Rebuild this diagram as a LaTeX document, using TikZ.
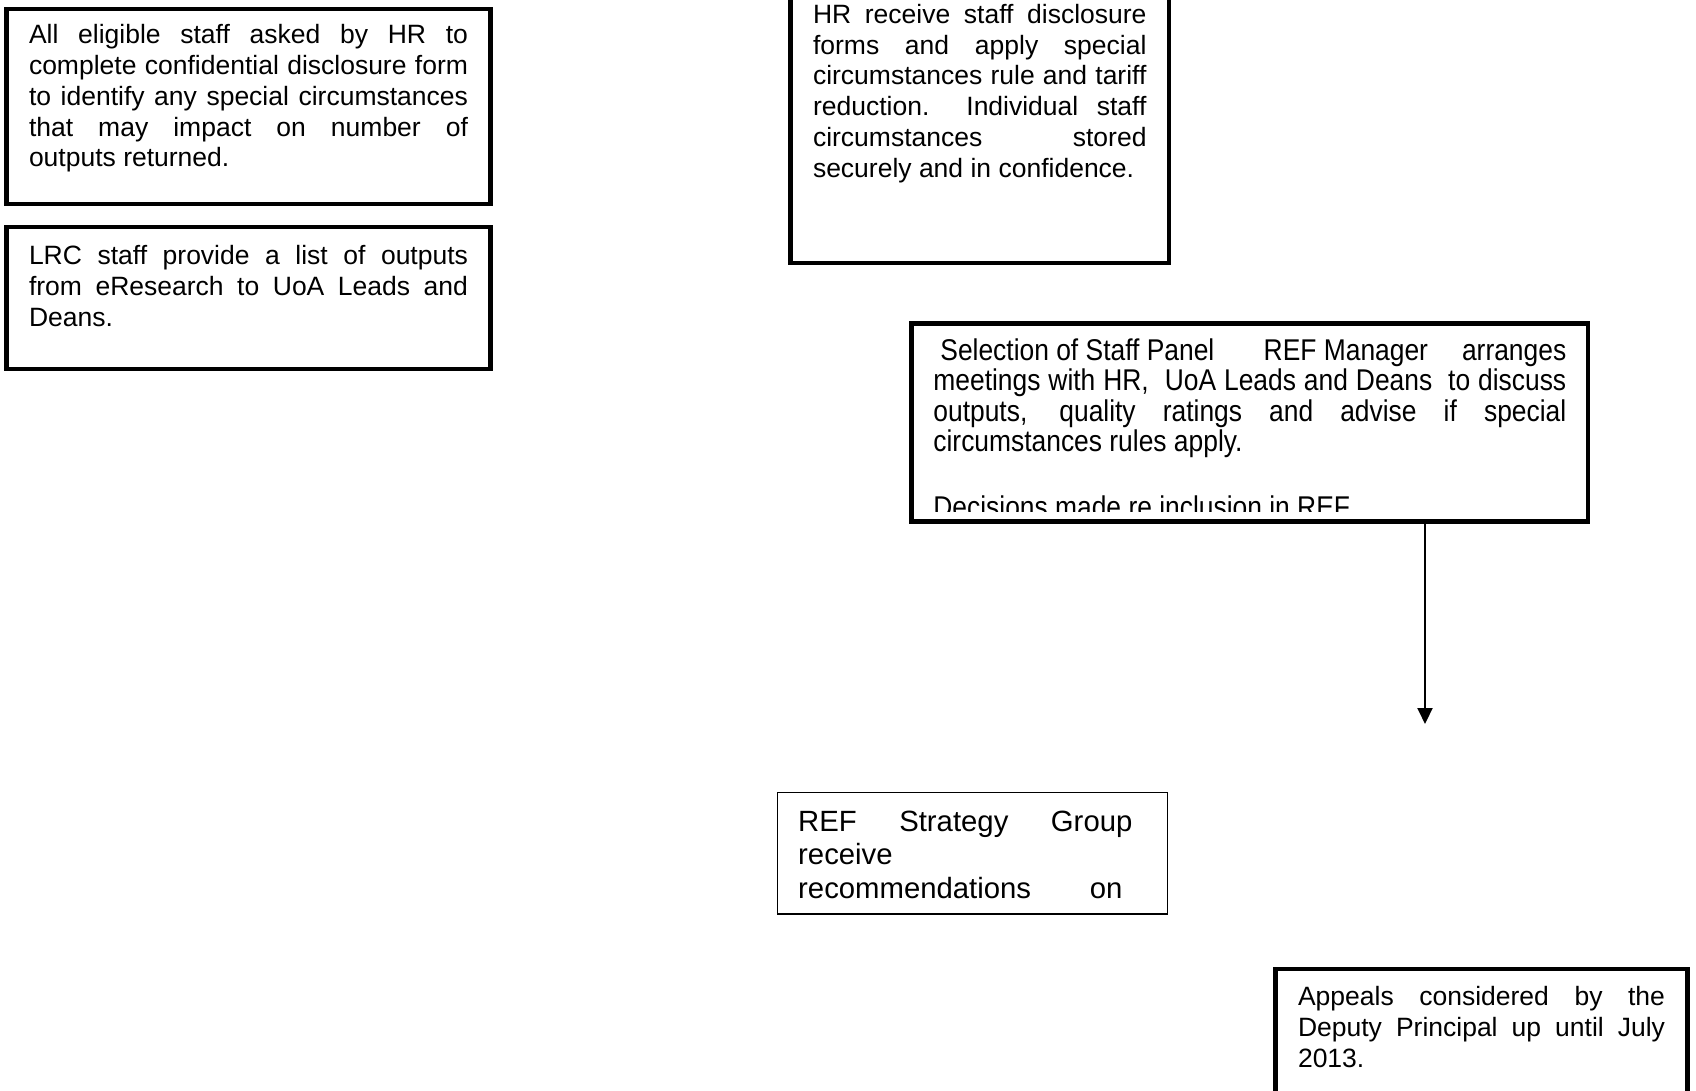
\documentclass[tikz,border=0pt]{standalone}
\usepackage{fontspec}
\setmainfont{Liberation Sans}
\newfontfamily\tallsans{Liberation Sans}[FakeStretch=0.88]
\usetikzlibrary{arrows.meta, positioning}
\tikzset{
  caja/.style={rectangle, draw=black, line width=4.5pt, outer sep=0pt, inner xsep=22.5pt, inner ysep=0pt,
               anchor=north west, align=justify, font=\fontsize{26.5}{30.8}\selectfont},
  cajafina/.style={caja, line width=1.3pt, inner xsep=20.8pt, font=\fontsize{29.3}{33.5}\selectfont},
  cajaalta/.style={caja, inner xsep=21.7pt, font=\tallsans\fontsize{30}{30.6}\selectfont},
  linea/.style={anchor=base west, inner sep=0pt, outer sep=0pt, font=\tallsans\fontsize{30}{30.6}\selectfont},
  arrow/.style={line width=2pt, -{Triangle[width=15pt,length=16pt]}, color=black}
}
\begin{document}
\begin{tikzpicture}[x=1pt, y=-1pt]
  \clip (0,0) rectangle (1696,1091);
  \fill [white] (0,0) rectangle (1696,1091);
  \node (disclose) [caja, text width=439pt, text height=34.8pt, text depth=160.2pt] at (6.5,9)
    {All eligible staff asked by HR to\linebreak complete confidential disclosure form\linebreak
     to identify any special circumstances\linebreak that may impact on number of\linebreak outputs returned.};
  \node (lrc) [caja, text width=439pt, text height=37.5pt, text depth=104.5pt] at (6.5,227)
    {LRC staff provide a list of outputs\linebreak from eResearch to UoA Leads and\linebreak Deans.};
  \node (hr) [caja, text width=333.5pt, text height=43.3pt, text depth=239.7pt] at (790.5,-20)
    {HR receive staff disclosure\linebreak forms and apply special\linebreak circumstances rule and tariff\linebreak
     reduction.\ \ Individual staff\linebreak circumstances stored\linebreak securely and in confidence.};
  \node (sel) [cajaalta, text width=632.9pt, text height=36.7pt, text depth=161.7pt] at (911.7,323.3)
    {\hspace*{7pt}Selection of Staff Panel\hspace{0pt plus 1.45fill}REF Manager\hspace{0pt plus 1fill}arranges\linebreak
     meetings with HR,\ \ UoA Leads and Deans\ \ to discuss\linebreak outputs, quality ratings and advise if special\linebreak
     circumstances rules apply.};
  \begin{scope}
    \clip (911.7,323.3) rectangle (1588,511);
    \node (decide) [linea] at (933.4,517) {Decisions made re inclusion in REF};
  \end{scope}
  \node (strategy) [cajafina, text width=348.2pt, text height=39pt, text depth=82.6pt] at (777.4,792.4)
    {REF Strategy Group\hspace*{14pt}\linebreak receive\linebreak
     recommendations\hspace{0pt plus 1fill}on\hspace*{24pt}\mbox{}};
  \node (appeals) [caja, text width=367pt, text height=36.7pt, text depth=150pt] at (1275.5,969)
    {Appeals considered by the\linebreak Deputy Principal up until July\linebreak 2013.};
  \coordinate (selend) at (1425,724);
  \draw [arrow] (selend |- sel.south) -- (selend);
\end{tikzpicture}
\end{document}
